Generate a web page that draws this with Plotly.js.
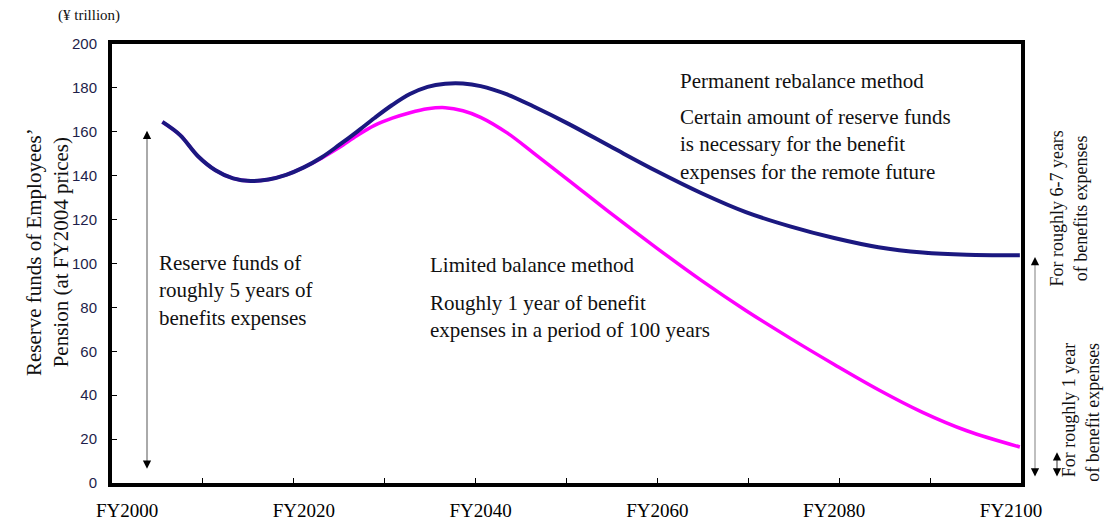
<!DOCTYPE html>
<html>
<head>
<meta charset="utf-8">
<script src="https://cdn.plot.ly/plotly-3.0.1.min.js"></script>
<style>html,body{margin:0;padding:0;background:#fff;}#chart{width:1107px;height:525px;}</style>
</head>
<body>
<div id="chart"></div>
<script>
// ---- data (¥ trillion, FY2004 prices) ----
const years = [2004, 2006, 2008, 2010, 2012, 2014, 2016, 2018, 2020, 2022, 2024, 2026, 2028, 2030, 2032, 2034, 2036, 2038, 2040, 2043, 2046, 2050, 2055, 2060, 2065, 2070, 2075, 2080, 2085, 2090, 2095, 2101];
const permanentRebalance = [164.5, 158.5, 149.0, 142.5, 138.8, 137.6, 138.3, 140.4, 143.8, 148.3, 154.0, 160.0, 166.3, 172.2, 177.2, 180.5, 181.9, 182.0, 180.8, 177.0, 171.5, 163.5, 152.6, 141.9, 132.0, 123.4, 116.9, 111.6, 107.4, 105.0, 104.0, 103.8];
const limitedBalance = [164.5, 158.5, 149.0, 142.5, 138.8, 137.6, 138.3, 140.4, 143.8, 148.0, 152.8, 158.2, 162.9, 166.2, 168.7, 170.5, 171.0, 169.6, 166.6, 159.5, 150.3, 137.8, 122.0, 106.8, 92.2, 78.6, 66.0, 54.0, 42.5, 32.2, 23.8, 16.4];
const tickYears = [2000, 2020, 2040, 2060, 2080, 2100];
const tickLabels = ["FY2000", "FY2020", "FY2040", "FY2060", "FY2080", "FY2100"];
const yTicks = [0, 20, 40, 60, 80, 100, 120, 140, 160, 180, 200];

const xRange = [1998.3, 2101.13];
const serif = "Liberation Serif, Times New Roman, serif";

const traces = [
  {x: years, y: limitedBalance, xaxis: 'x', yaxis: 'y', mode: 'lines', name: 'Limited balance method',
   line: {color: '#ff00ff', width: 3.5, shape: 'spline', smoothing: 1}, hoverinfo: 'skip'},
  {x: years, y: permanentRebalance, xaxis: 'x2', yaxis: 'y', mode: 'lines', name: 'Permanent rebalance method',
   line: {color: '#1b1880', width: 4, shape: 'spline', smoothing: 1}, hoverinfo: 'skip'}
];

const txt = (text, x, y, size, extra) => Object.assign({
  text: text, xref: 'paper', yref: 'paper', x: x, y: y, showarrow: false,
  xanchor: 'left', yanchor: 'middle', align: 'left',
  font: {family: serif, size: size, color: '#111'}
}, extra || {});

const arrowHead = (xref, x, y, dirDown) => ({
  xref: xref, yref: 'y', x: x, y: y, ax: 0, ay: dirDown ? -6 : 6, text: '',
  showarrow: true, arrowhead: 2, arrowsize: 1.1, arrowwidth: 1.5, arrowcolor: '#000'
});

const annotations = [
  txt('(¥ trillion)', -0.062, 1.064, 15),
  txt('Permanent rebalance method', 0.623, 0.9157, 21),
  txt('Certain amount of reserve funds<br>is necessary for the benefit<br>expenses for the remote future', 0.623, 0.770, 21),
  txt('Limited balance method', 0.348, 0.4966, 21),
  txt('Roughly 1 year of benefit<br>expenses in a period of 100 years', 0.348, 0.3804, 21),
  txt('Reserve funds of<br>roughly 5 years of<br>benefits expenses', 0.049, 0.4374, 21),
  txt("Reserve funds of Employees’<br>Pension (at FY2004 prices)", -0.0715, 0.526, 21, {textangle: -90, xanchor: 'center', align: 'center'}),
  txt('For roughly 6-7 years<br>of benefits expenses', 1.0523, 0.624, 18, {textangle: -90, xanchor: 'center', align: 'center'}),
  txt('For roughly 1 year<br>of benefit expenses', 1.066, 0.325, 18, {textangle: -90, xanchor: 'center', yanchor: 'top', align: 'right'}),
  // arrowheads
  arrowHead('x', 2002.26, 160.5, false),
  arrowHead('x', 2002.26, 6.5, true),
  arrowHead('paper', 1.0154, 103.0, false),
  arrowHead('paper', 1.0154, 3.0, true),
  arrowHead('paper', 1.0396, 14.0, false),
  arrowHead('paper', 1.0396, 3.0, true)
];

const shapes = [
  {type: 'line', xref: 'x', yref: 'y', x0: 2002.26, x1: 2002.26, y0: 8, y1: 158, line: {color: '#aaaaaa', width: 2}},
  {type: 'line', xref: 'paper', yref: 'y', x0: 1.0154, x1: 1.0154, y0: 5, y1: 100, line: {color: '#aaaaaa', width: 1.5}},
  {type: 'line', xref: 'paper', yref: 'y', x0: 1.0396, x1: 1.0396, y0: 5, y1: 12, line: {color: '#555', width: 1.2}}
];

const layout = {
  width: 1107, height: 525,
  margin: {l: 112, r: 86, t: 44, b: 42},
  paper_bgcolor: '#fff', plot_bgcolor: '#fff',
  showlegend: false,
  xaxis: {
    range: xRange, tickmode: 'linear', tick0: xRange[0], dtick: (xRange[1] - xRange[0]) / 10,
    ticks: 'inside', ticklen: 5, tickwidth: 1, tickcolor: '#000', showticklabels: false,
    showline: true, linewidth: 4, linecolor: '#000', mirror: true,
    showgrid: false, zeroline: false, fixedrange: true
  },
  xaxis2: {
    range: xRange, overlaying: 'x', anchor: 'y', side: 'bottom',
    tickmode: 'array', tickvals: tickYears, ticktext: tickLabels, ticks: '',
    ticklabelstandoff: 14,
    tickfont: {family: serif, size: 19, color: '#000'},
    showline: false, showgrid: false, zeroline: false, fixedrange: true
  },
  yaxis: {
    range: [0, 200], tickmode: 'array', tickvals: yTicks,
    ticks: 'inside', ticklen: 5, tickwidth: 1, tickcolor: '#000',
    ticklabelstandoff: 8,
    tickfont: {family: 'Liberation Sans, Arial, sans-serif', size: 15, color: '#1e1e4a'},
    showline: true, linewidth: 4, linecolor: '#000', mirror: true,
    showgrid: false, zeroline: false, fixedrange: true
  },
  annotations: annotations,
  shapes: shapes
};

Plotly.newPlot('chart', traces, layout, {displayModeBar: false, staticPlot: true});
</script>
</body>
</html>
